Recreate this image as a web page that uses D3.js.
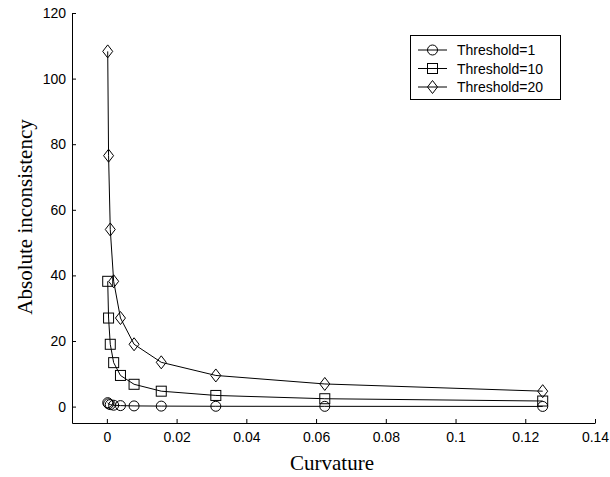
<!DOCTYPE html>
<html>
  <head>
    <meta charset="utf-8">
    <title>Absolute inconsistency vs curvature</title>
    <style type="text/css">
      body { margin: 0; background: #fff; }
      .chart { width: 610px; height: 477px; display: block; }
      .tick text { font-family: "Liberation Sans", Arial, sans-serif; font-size: 14px; fill: #000; }
      .axis path, .axis line { stroke: #000; stroke-width: 1; }
    </style>
    <script src="https://d3js.org/d3.v7.min.js"></script>
  </head>
  <body>
    <svg class="chart"></svg>
    <script>

// values
var curvature = [0.000244, 0.000488, 0.000977, 0.00195, 0.0039, 0.0078, 0.0156, 0.03125, 0.0625, 0.125];
var threshold1 = [1.2, 0.85, 0.6, 0.42, 0.3, 0.21, 0.15, 0.1, 0.08, 0.05];
var threshold10 = [38.2, 27, 19, 13.4, 9.5, 6.8, 4.7, 3.4, 2.4, 1.7];
var threshold20 = [108.3, 76.5, 54, 38.2, 27, 19, 13.5, 9.5, 6.9, 4.7];
var seriesNames = ["Threshold=1", "Threshold=10", "Threshold=20"];
var seriesShapes = ["circle", "square", "diamond"];
var xTicks = [0, 0.02, 0.04, 0.06, 0.08, 0.1, 0.12, 0.14];
var yTicks = [0, 20, 40, 60, 80, 100, 120];

var svg = d3.select(".chart")
    .attr("width", 610)
    .attr("height", 477);

var x = d3.scaleLinear()
  .domain([-0.01, 0.14])
  .range([72, 595]);

var y = d3.scaleLinear()
  .domain([-5, 120])
  .range([423, 13]);

// axes, ticks pointing inward
svg.append("g")
    .attr("class", "axis")
    .attr("transform", "translate(0,423)")
    .call(d3.axisBottom(x).tickValues(xTicks).tickSizeInner(-4).tickSizeOuter(0).tickPadding(9)
      .tickFormat(function(d) { return d3.format("")(+d.toFixed(2)); }));

svg.append("g")
    .attr("class", "axis")
    .attr("transform", "translate(72,0)")
    .call(d3.axisLeft(y).tickValues(yTicks).tickSizeInner(-4).tickSizeOuter(0).tickPadding(6));

svg.selectAll(".axis .domain").attr("stroke", "#000");

// axis titles
svg.append("text")
    .attr("x", 332)
    .attr("y", 470)
    .attr("text-anchor", "middle")
    .style("font-family", "'Liberation Serif', 'Times New Roman', serif")
    .style("font-size", "21px")
    .text("Curvature");

svg.append("text")
    .attr("transform", "translate(32,217) rotate(-90)")
    .attr("text-anchor", "middle")
    .style("font-family", "'Liberation Serif', 'Times New Roman', serif")
    .style("font-size", "21px")
    .text("Absolute inconsistency");

// marker drawing
function marker(g, shape, cx, cy) {
  if (shape == "circle") {
    g.append("circle").attr("cx", cx).attr("cy", cy).attr("r", 5);
  } else if (shape == "square") {
    g.append("rect").attr("x", cx - 5).attr("y", cy - 5).attr("width", 10).attr("height", 10);
  } else {
    g.append("path").attr("d", "M" + cx + "," + (cy - 6.5) + "L" + (cx + 5) + "," + cy +
      "L" + cx + "," + (cy + 6.5) + "L" + (cx - 5) + "," + cy + "Z");
  }
}

var allSeries = [threshold1, threshold10, threshold20];

var line = d3.line()
  .x(function(d) { return x(d[0]); })
  .y(function(d) { return y(d[1]); });

allSeries.forEach(function(vals, i) {
  var pts = curvature.map(function(c, j) { return [c, vals[j]]; });
  var g = svg.append("g")
      .attr("fill", "none")
      .attr("stroke", "#000")
      .attr("stroke-width", 1);
  g.append("path").datum(pts).attr("d", line);
  pts.forEach(function(p) {
    marker(g, seriesShapes[i], x(p[0]), y(p[1]));
  });
});

// legend
var legend = svg.append("g");
legend.append("rect")
    .attr("x", 410.5).attr("y", 35.5)
    .attr("width", 150).attr("height", 64)
    .attr("fill", "#fff").attr("stroke", "#000");

seriesNames.forEach(function(name, i) {
  var ly = 50 + i * 18.5;
  var g = legend.append("g")
      .attr("fill", "none")
      .attr("stroke", "#000");
  g.append("line").attr("x1", 418).attr("x2", 447).attr("y1", ly).attr("y2", ly);
  marker(g, seriesShapes[i], 432.5, ly);
  legend.append("text")
      .attr("x", 457)
      .attr("y", ly + 5)
      .style("font-family", "'Liberation Sans', Arial, sans-serif")
      .style("font-size", "14px")
      .text(name);
});

</script>
  </body>
</html>
